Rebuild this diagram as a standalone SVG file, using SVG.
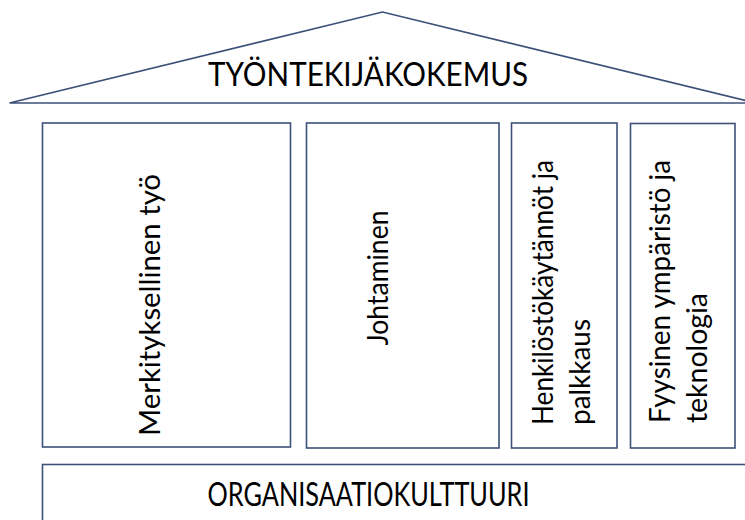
<svg xmlns="http://www.w3.org/2000/svg" width="745" height="520" viewBox="0 0 745 520">
  <style>
    .shape { fill: #ffffff; stroke: #3c5078; stroke-width: 1.6; }
    .lbl { font-family: Lato, "Open Sans", "Liberation Sans", sans-serif; fill: #000000; }
    .big { font-size: 32px; }
    .vert { font-size: 29px; }
  </style>
  <rect width="745" height="520" fill="#ffffff"/>

  <!-- roof -->
  <g id="roof">
    <polygon class="shape" points="9.5,103 382.5,12 755.5,103"/>
    <text class="lbl big" x="368" y="86" text-anchor="middle" textLength="320" lengthAdjust="spacingAndGlyphs">TYÖNTEKIJÄKOKEMUS</text>
  </g>

  <!-- pillars -->
  <g id="pillar-meaningful-work">
    <rect class="shape" x="42.5" y="123" width="248" height="324"/>
    <text class="lbl vert" transform="translate(160,436) rotate(-90)" textLength="262" lengthAdjust="spacingAndGlyphs">Merkityksellinen työ</text>
  </g>

  <g id="pillar-leadership">
    <rect class="shape" x="306.5" y="123" width="192.5" height="325"/>
    <text class="lbl vert" transform="translate(388,278) rotate(-90)" text-anchor="middle" textLength="135" lengthAdjust="spacingAndGlyphs">Johtaminen</text>
  </g>

  <g id="pillar-hr-practices">
    <rect class="shape" x="511.5" y="123" width="105.5" height="325"/>
    <text class="lbl vert" transform="translate(553,425) rotate(-90)" textLength="265" lengthAdjust="spacingAndGlyphs">Henkilöstökäytännöt ja</text>
    <text class="lbl vert" transform="translate(590,425) rotate(-90)" textLength="106" lengthAdjust="spacingAndGlyphs">palkkaus</text>
  </g>

  <g id="pillar-environment">
    <rect class="shape" x="630.5" y="123.5" width="104.5" height="324.5"/>
    <text class="lbl vert" transform="translate(670,423) rotate(-90)" textLength="263" lengthAdjust="spacingAndGlyphs">Fyysinen ympäristö ja</text>
    <text class="lbl vert" transform="translate(706.5,423) rotate(-90)" textLength="130" lengthAdjust="spacingAndGlyphs">teknologia</text>
  </g>

  <!-- foundation -->
  <g id="foundation">
    <rect class="shape" x="42.5" y="464.5" width="730" height="80"/>
    <text class="lbl big" x="368.5" y="506" text-anchor="middle" textLength="322" lengthAdjust="spacingAndGlyphs">ORGANISAATIOKULTTUURI</text>
  </g>

  <g id="connectors"/>
</svg>
